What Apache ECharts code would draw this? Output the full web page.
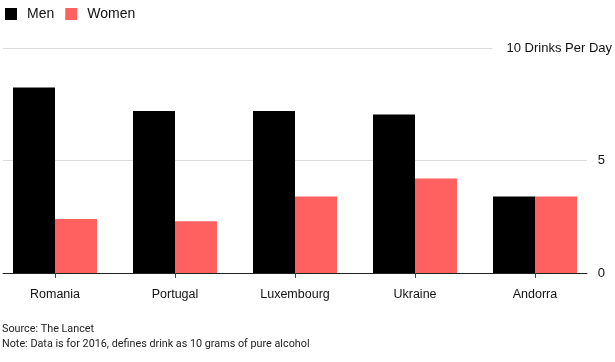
<!DOCTYPE html>
<html><head><meta charset="utf-8">
<script src="https://cdn.jsdelivr.net/npm/echarts@6/dist/echarts.min.js"></script>
<style>html,body{margin:0;padding:0;background:#fff}#c{width:615px;height:362px}</style>
</head><body><div id="c"></div>
<script>
const categories = ['Romania', 'Portugal', 'Luxembourg', 'Ukraine', 'Andorra'];
const menValues = [8.25, 7.2, 7.2, 7.05, 3.4];
const womenValues = [2.4, 2.3, 3.4, 4.2, 3.4];
const tickLabels = ['0', '5', '10 Drinks Per Day'];
const FONT = 'Liberation Sans';
const NOTEFONT = 'Roboto';

const chart = echarts.init(document.getElementById('c'));
chart.setOption({
  animation: false,
  textStyle: { fontFamily: FONT },
  legend: {
    left: 5, top: 7, padding: 0, icon: 'rect', itemWidth: 12, itemHeight: 12, itemGap: 11,
    textStyle: { fontFamily: FONT, fontSize: 14, color: '#111', padding: [0, 0, 0, 5] },
    data: ['Men', 'Women']
  },
  title: [
    { text: 'Source: The Lancet', left: 2, top: 322, padding: [2, 0, 0, 0], textStyle: { fontFamily: NOTEFONT, fontSize: 10.8, fontWeight: 'normal', color: '#222' } },
    { text: 'Note: Data is for 2016, defines drink as 10 grams of pure alcohol', left: 2, top: 337, padding: [2, 0, 0, 0], textStyle: { fontFamily: NOTEFONT, fontSize: 10.8, fontWeight: 'normal', color: '#222' } }
  ],
  grid: [
    { left: 3, right: 28, top: 48, bottom: 89, outerBoundsMode: 'none', containLabel: false },
    { left: -5, right: 20, top: 48, bottom: 89, outerBoundsMode: 'none', containLabel: false }
  ],
  xAxis: [
    { gridIndex: 0, type: 'category', data: categories,
      axisLine: { show: true, lineStyle: { color: '#222', width: 1 } },
      axisTick: { show: false }, axisLabel: { show: false }, splitLine: { show: false } },
    { gridIndex: 1, type: 'category', data: categories,
      axisLine: { show: false },
      axisTick: { show: true, alignWithLabel: true, length: 5, lineStyle: { color: '#444' } },
      axisLabel: { fontFamily: FONT, fontSize: 12.5, color: '#111', margin: 15 } }
  ],
  yAxis: [
    { gridIndex: 0, type: 'value', position: 'right', min: 0, max: 10, interval: 5,
      axisLine: { show: false }, axisTick: { show: false },
      splitLine: { lineStyle: { color: '#dcdcdc', width: 1 } },
      axisLabel: {
        align: 'right', margin: 25, fontFamily: FONT, fontSize: 13, color: '#111',
        formatter: function (v) {
          const i = Math.round(v / 5);
          return i === 2 ? '{t|' + tickLabels[i] + '}' : '{s|' + tickLabels[i] + '}';
        },
        rich: {
          s: { fontFamily: FONT, fontSize: 13, color: '#111', padding: [0, 7, 0, 0] },
          t: { fontFamily: FONT, fontSize: 13, color: '#111', backgroundColor: '#fff', padding: [2, 0, 2, 14] }
        }
      } },
    { gridIndex: 1, type: 'value', min: 0, max: 10, interval: 5, show: false, splitLine: { show: false } }
  ],
  series: [
    { name: 'Men', type: 'bar', xAxisIndex: 1, yAxisIndex: 1, data: menValues, barWidth: 42, barGap: '0%', itemStyle: { color: '#000' } },
    { name: 'Women', type: 'bar', xAxisIndex: 1, yAxisIndex: 1, data: womenValues, barWidth: 42, barGap: '0%', itemStyle: { color: '#ff6161' } }
  ]
});
</script></body></html>
